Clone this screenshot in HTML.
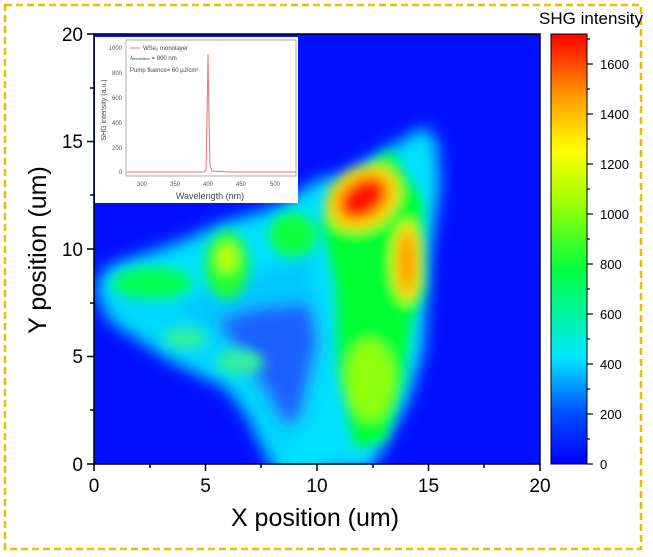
<!DOCTYPE html>
<html><head><meta charset="utf-8"><style>
body{margin:0;background:#fff;}
svg{display:block;font-family:"Liberation Sans",Arial,sans-serif;}
</style></head><body>
<svg width="653" height="557" viewBox="0 0 653 557">
<defs>
<filter id="b1" x="-50%" y="-50%" width="200%" height="200%"><feGaussianBlur stdDeviation="8"/></filter>
<filter id="b2" x="-50%" y="-50%" width="200%" height="200%"><feGaussianBlur stdDeviation="6"/></filter>
<clipPath id="cp"><rect x="94" y="34" width="446" height="430"/></clipPath>
<linearGradient id="cb" x1="0" y1="1" x2="0" y2="0">
<stop offset="0" stop-color="#0000ff"/>
<stop offset="0.12" stop-color="#0050ff"/>
<stop offset="0.25" stop-color="#00e8ff"/>
<stop offset="0.45" stop-color="#00ff40"/>
<stop offset="0.62" stop-color="#a8ff00"/>
<stop offset="0.73" stop-color="#ffff00"/>
<stop offset="0.85" stop-color="#ffa000"/>
<stop offset="1" stop-color="#ff0000"/>
</linearGradient>
</defs>
<rect x="5" y="5" width="636" height="544" fill="none" stroke="#f5b800" stroke-width="2.5" stroke-dasharray="7,4"/>
<g clip-path="url(#cp)">
<rect x="94" y="34" width="446" height="430" fill="#0010ff"/>
<g filter="url(#b1)">
<polygon fill="#00c8ff" points="160,300 240,270 320,240 320,420 290,440 220,370"/>
<polyline fill="none" stroke="#00e0ff" stroke-width="56" stroke-linecap="round" stroke-linejoin="round" points="125,290 190,268 230,250 290,232 330,205"/>
<polyline fill="none" stroke="#00d8ff" stroke-width="48" stroke-linecap="round" stroke-linejoin="round" points="128,305 185,342 240,368 265,400 285,440 300,470"/>
<polygon fill="#00e0ff" points="323,187 390,147 423,127 437,140 440,187 430,253 423,353 407,403 380,453 370,470 290,470 300,420 315,330 310,250"/>
<polygon fill="#1a60ff" points="215,322 250,308 312,302 320,340 302,418 285,428 262,388 232,345"/>
</g>
<g filter="url(#b2)">
<ellipse cx="185" cy="338" rx="22" ry="11" fill="#30f0a0"/>
<ellipse cx="240" cy="362" rx="24" ry="13" fill="#30f0a0"/>
<ellipse cx="152" cy="283" rx="40" ry="16" fill="#00ff50"/>
<ellipse cx="227" cy="265" rx="22" ry="34" fill="#20ff30"/>
<ellipse cx="227" cy="258" rx="9" ry="14" fill="#c8ff00"/>
<ellipse cx="293" cy="235" rx="24" ry="22" fill="#10ff40"/>
<polygon fill="#00ff30" points="328,190 390,150 422,200 425,287 412,320 402,387 385,440 355,448 338,370 336,287 322,222"/>
<ellipse cx="370" cy="380" rx="24" ry="40" fill="#90ff10"/>
<ellipse cx="363" cy="198" rx="38" ry="30" fill="#ffd000" transform="rotate(-30 363 198)"/>
<ellipse cx="363" cy="198" rx="26" ry="18" fill="#ff1800" transform="rotate(-35 363 198)"/>
<ellipse cx="407" cy="262" rx="14" ry="40" fill="#ffe000"/>
<ellipse cx="407" cy="262" rx="8" ry="30" fill="#ff9800"/>
</g>
</g>
<rect x="94" y="34" width="446" height="430" fill="none" stroke="#000" stroke-width="1.5"/>
<g stroke="#000" stroke-width="1.5">
<line x1="94" y1="464" x2="94" y2="471"/><line x1="205.5" y1="464" x2="205.5" y2="471"/><line x1="317" y1="464" x2="317" y2="471"/><line x1="428.5" y1="464" x2="428.5" y2="471"/><line x1="540" y1="464" x2="540" y2="471"/>
<line x1="150" y1="464" x2="150" y2="468"/><line x1="261" y1="464" x2="261" y2="468"/><line x1="373" y1="464" x2="373" y2="468"/><line x1="484" y1="464" x2="484" y2="468"/>
<line x1="87" y1="464" x2="94" y2="464"/><line x1="87" y1="356.5" x2="94" y2="356.5"/><line x1="87" y1="249" x2="94" y2="249"/><line x1="87" y1="141.5" x2="94" y2="141.5"/><line x1="87" y1="34" x2="94" y2="34"/>
<line x1="90" y1="410" x2="94" y2="410"/><line x1="90" y1="303" x2="94" y2="303"/><line x1="90" y1="195" x2="94" y2="195"/><line x1="90" y1="88" x2="94" y2="88"/>
</g>
<g font-size="19" fill="#000" text-anchor="middle">
<text x="94" y="492">0</text><text x="205.5" y="492">5</text><text x="317" y="492">10</text><text x="428.5" y="492">15</text><text x="540" y="492">20</text>
</g>
<g font-size="19" fill="#000" text-anchor="end">
<text x="83" y="471">0</text><text x="83" y="363">5</text><text x="83" y="256">10</text><text x="83" y="148">15</text><text x="83" y="41">20</text>
</g>
<text x="315" y="526" font-size="25" text-anchor="middle">X position (um)</text>
<text transform="translate(46,250) rotate(-90)" font-size="25" text-anchor="middle">Y position (um)</text>
<rect x="551" y="34" width="36" height="430" fill="url(#cb)" stroke="#000" stroke-width="1"/>
<g stroke="#000" stroke-width="1.2">
<line x1="587" y1="464" x2="593" y2="464"/><line x1="587" y1="414" x2="593" y2="414"/><line x1="587" y1="364" x2="593" y2="364"/><line x1="587" y1="314" x2="593" y2="314"/><line x1="587" y1="264" x2="593" y2="264"/><line x1="587" y1="214" x2="593" y2="214"/><line x1="587" y1="164" x2="593" y2="164"/><line x1="587" y1="114" x2="593" y2="114"/><line x1="587" y1="64" x2="593" y2="64"/>
<line x1="587" y1="439" x2="590" y2="439"/><line x1="587" y1="389" x2="590" y2="389"/><line x1="587" y1="339" x2="590" y2="339"/><line x1="587" y1="289" x2="590" y2="289"/><line x1="587" y1="239" x2="590" y2="239"/><line x1="587" y1="189" x2="590" y2="189"/><line x1="587" y1="139" x2="590" y2="139"/><line x1="587" y1="89" x2="590" y2="89"/><line x1="587" y1="39" x2="590" y2="39"/>
</g>
<g font-size="13" fill="#000">
<text x="600" y="469">0</text><text x="600" y="419">200</text><text x="600" y="369">400</text><text x="600" y="319">600</text><text x="600" y="269">800</text><text x="600" y="219">1000</text><text x="600" y="169">1200</text><text x="600" y="119">1400</text><text x="600" y="69">1600</text>
</g>
<text x="591" y="24" font-size="17" text-anchor="middle">SHG intensity</text>
<rect x="95" y="37" width="203" height="166" fill="#fff"/>
<rect x="126" y="40" width="170" height="136" fill="none" stroke="#999" stroke-width="0.8"/>
<g font-size="6" fill="#555" text-anchor="end">
<text x="122" y="174">0</text><text x="122" y="150">200</text><text x="122" y="125">400</text><text x="122" y="100">600</text><text x="122" y="75">800</text><text x="122" y="50">1000</text>
</g>
<g font-size="6" fill="#555" text-anchor="middle">
<text x="142" y="186">300</text><text x="175" y="186">350</text><text x="208" y="186">400</text><text x="241" y="186">450</text><text x="275" y="186">500</text>
</g>
<text x="210" y="199" font-size="9" fill="#444" text-anchor="middle">Wavelength (nm)</text>
<text transform="translate(106,110) rotate(-90)" font-size="7" fill="#444" text-anchor="middle">SHG intensity (a.u.)</text>
<polyline fill="none" stroke="#f07070" stroke-width="1" points="127,172 180,172 204,172 206,170 207,120 208,54 209,120 210,165 212,171 230,172 296,172"/>
<line x1="130" y1="48" x2="140" y2="48" stroke="#f07070" stroke-width="1"/>
<g font-size="6" fill="#444">
<text x="143" y="50">WSe₂ monolayer</text>
<text x="130" y="60">λ<tspan font-size="4">excitation</tspan> = 800 nm</text>
<text x="130" y="72">Pump fluence= 60 μJ/cm²</text>
</g>
</svg>
</body></html>
